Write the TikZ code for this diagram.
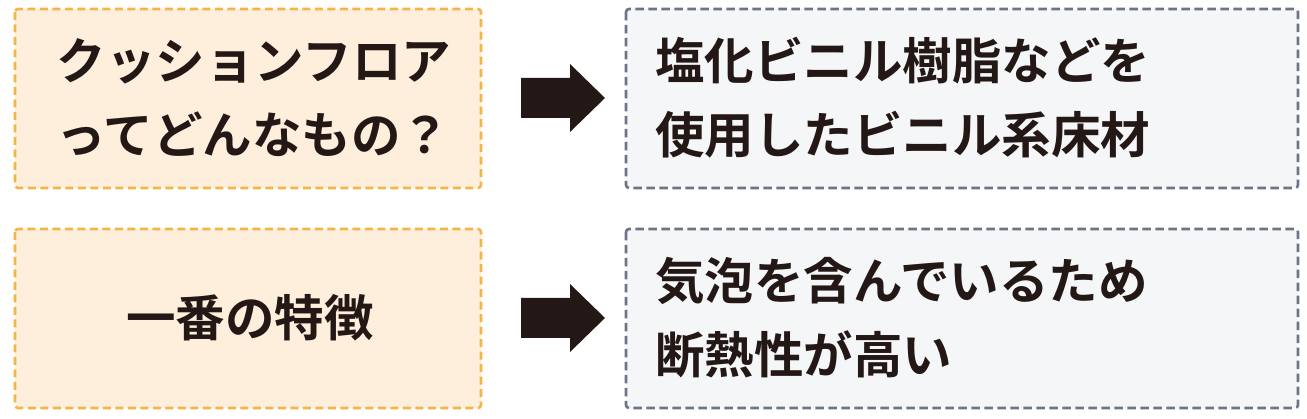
\documentclass[tikz,border=0pt]{standalone}
\usepackage{fontspec}
\newfontfamily\cjk{Noto Sans CJK JP}[BoldFont={Noto Sans CJK JP Bold}]
\definecolor{obord}{HTML}{F5B44A}
\definecolor{ofill}{HTML}{FDEFDC}
\definecolor{gbord}{HTML}{6B7586}
\definecolor{gfill}{HTML}{F4F6F8}
\definecolor{ink}{HTML}{231815}
\begin{document}
\begin{tikzpicture}[x=1pt,y=-1pt,
  qbox/.style={draw=obord,fill=ofill,line width=2.6pt,dash pattern=on 8pt off 4.5pt,rounded corners=3pt},
  abox/.style={draw=gbord,fill=gfill,line width=2.6pt,dash pattern=on 8.5pt off 4.5pt,rounded corners=3pt},
  txt/.style={text=ink,font=\cjk\bfseries\fontsize{49.5}{74}\selectfont,inner sep=0pt},
  bigarrow/.style={fill=ink,draw=none}]
\useasboundingbox (0,0) rectangle (1307,419);
\draw[qbox] (15,9) rectangle (481,188);
\draw[abox] (626,9) rectangle (1298,188);
\draw[qbox] (15,229) rectangle (481,408);
\draw[abox] (626,229) rectangle (1298,408);
\node[txt,align=left] (q1) at (254,98) {クッションフロア\\ってどんなもの？};
\node[txt,anchor=west,align=left] (a1) at (655,98) {塩化ビニル樹脂などを\\使用したビニル系床材};
\node[txt] (q2) at (250,318) {一番の特徴};
\node[txt,anchor=west,align=left] (a2) at (655,318) {気泡を含んでいるため\\断熱性が高い};
\fill[bigarrow] (521,78) -- (570,78) -- (570,64) -- (605,98) -- (570,132) -- (570,118) -- (521,118) -- cycle;
\fill[bigarrow] (521,298) -- (570,298) -- (570,284) -- (605,318) -- (570,352) -- (570,338) -- (521,338) -- cycle;
\end{tikzpicture}
\end{document}
